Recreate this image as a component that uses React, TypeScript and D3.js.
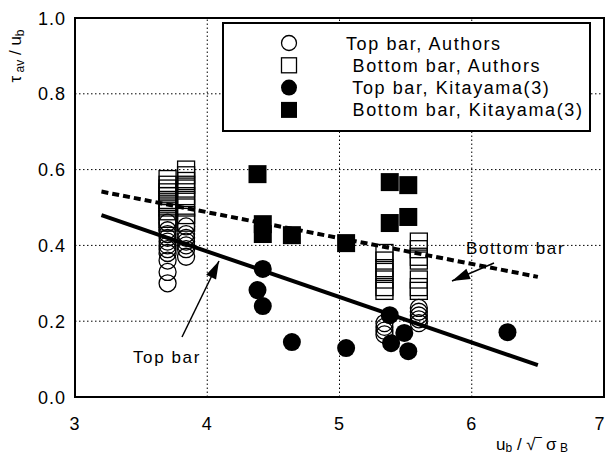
import React from 'react';
import * as d3 from 'd3';

const W = 608;
const H = 457;

const xTicks = [3, 4, 5, 6, 7];
const yTicks = [0, 0.2, 0.4, 0.6, 0.8, 1.0];
const xGrid = [4, 5, 6];
const yGrid = [0.2, 0.4, 0.6, 0.8];

// Top bar, Authors (open circles)
const topAuthors: [number, number][] = [
  [3.70, 0.46], [3.70, 0.44], [3.70, 0.43], [3.70, 0.42], [3.70, 0.41], [3.70, 0.40],
  [3.70, 0.39], [3.70, 0.38], [3.70, 0.36], [3.70, 0.33], [3.70, 0.30],
  [3.84, 0.45], [3.84, 0.43], [3.84, 0.42], [3.84, 0.41], [3.84, 0.40], [3.84, 0.39], [3.84, 0.37],
  [5.34, 0.195], [5.34, 0.185], [5.34, 0.175], [5.34, 0.165],
  [5.60, 0.235], [5.60, 0.225], [5.60, 0.215], [5.60, 0.205], [5.60, 0.195],
];

// Bottom bar, Authors (open squares)
const bottomAuthors: [number, number][] = [
  [3.70, 0.575], [3.70, 0.56], [3.70, 0.55], [3.70, 0.54], [3.70, 0.53], [3.70, 0.52],
  [3.70, 0.51], [3.70, 0.50], [3.70, 0.49], [3.70, 0.47], [3.70, 0.46],
  [3.84, 0.60], [3.84, 0.585], [3.84, 0.57], [3.84, 0.56], [3.84, 0.55], [3.84, 0.53],
  [3.84, 0.52], [3.84, 0.50], [3.84, 0.48], [3.84, 0.46],
  [5.34, 0.38], [5.34, 0.36], [5.34, 0.34], [5.34, 0.33], [5.34, 0.31], [5.34, 0.29], [5.34, 0.28],
  [5.60, 0.41], [5.60, 0.39], [5.60, 0.37], [5.60, 0.36], [5.60, 0.31], [5.60, 0.29], [5.60, 0.28],
];

// Top bar, Kitayama(3) (filled circles)
const topKitayama: [number, number][] = [
  [4.42, 0.338], [4.38, 0.282], [4.42, 0.24], [4.64, 0.145], [5.05, 0.129],
  [5.38, 0.216], [5.49, 0.169], [5.39, 0.142], [5.52, 0.121], [6.27, 0.171],
];

// Bottom bar, Kitayama(3) (filled squares)
const bottomKitayama: [number, number][] = [
  [4.38, 0.588], [4.42, 0.456], [4.42, 0.43], [4.64, 0.427], [5.05, 0.406],
  [5.38, 0.567], [5.52, 0.559], [5.38, 0.459], [5.52, 0.475],
];

const topFit: [number, number][] = [[3.2, 0.48], [6.5, 0.084]];
const bottomFit: [number, number][] = [[3.2, 0.542], [6.5, 0.317]];

const legendLabels = [
  'Top bar, Authors',
  ' Bottom bar, Authors',
  ' Top bar, Kitayama(3)',
  ' Bottom bar, Kitayama(3)',
];

const FONT = '"Liberation Sans", Arial, Helvetica, sans-serif';

export default function App() {
  const x = d3.scaleLinear().domain([3, 7]).range([75, 604]);
  const y = d3.scaleLinear().domain([0, 1]).range([397, 18]);
  const line = d3.line<[number, number]>().x(d => x(d[0])).y(d => y(d[1]));

  const S = 17; // marker size
  const r = 8.5;

  const arrowHead = (tx: number, ty: number, fx: number, fy: number) => {
    const ang = Math.atan2(ty - fy, tx - fx);
    const L = 18, Wd = 5.5;
    const bx = tx - L * Math.cos(ang), by = ty - L * Math.sin(ang);
    const px = -Math.sin(ang) * Wd, py = Math.cos(ang) * Wd;
    return `M${tx},${ty}L${bx + px},${by + py}L${bx - px},${by - py}Z`;
  };

  const topArrow = { fx: 182, fy: 337, tx: 219, ty: 261 };
  const botArrow = { fx: 494, fy: 263, tx: 452, ty: 281 };

  return (
    <svg width={W} height={H} style={{ position: 'absolute', left: 0, top: 0, background: '#fff' }}
      fontFamily={FONT}>
      <rect x={0} y={0} width={W} height={H} fill="#fff" />
      {/* grid */}
      {xGrid.map(v => (
        <line key={'gx' + v} x1={x(v)} x2={x(v)} y1={y(0)} y2={y(1)} stroke="#000"
          strokeWidth={1} strokeDasharray="1.5,2.5" />
      ))}
      {yGrid.map(v => (
        <line key={'gy' + v} x1={x(3)} x2={x(7)} y1={y(v)} y2={y(v)} stroke="#000"
          strokeWidth={1} strokeDasharray="1.5,2.5" />
      ))}

      {/* fit lines */}
      <path d={line(bottomFit) || ''} fill="none" stroke="#000" strokeWidth={4} strokeDasharray="7,4" />
      <path d={line(topFit) || ''} fill="none" stroke="#000" strokeWidth={4} />

      {/* markers */}
      {bottomAuthors.map((d, i) => (
        <rect key={'ba' + i} x={x(d[0]) - S / 2} y={y(d[1]) - S / 2} width={S} height={S}
          fill="none" stroke="#000" strokeWidth={1.3} />
      ))}
      {topAuthors.map((d, i) => (
        <circle key={'ta' + i} cx={x(d[0])} cy={y(d[1])} r={r} fill="none" stroke="#000" strokeWidth={1.3} />
      ))}
      {bottomKitayama.map((d, i) => (
        <rect key={'bk' + i} x={x(d[0]) - 9} y={y(d[1]) - 9} width={18} height={18} fill="#000" />
      ))}
      {topKitayama.map((d, i) => (
        <circle key={'tk' + i} cx={x(d[0])} cy={y(d[1])} r={9} fill="#000" />
      ))}

      {/* annotations */}
      <line x1={topArrow.fx} y1={topArrow.fy} x2={topArrow.tx} y2={topArrow.ty} stroke="#000" strokeWidth={1.5} />
      <path d={arrowHead(topArrow.tx, topArrow.ty, topArrow.fx, topArrow.fy)} fill="#000" />
      <line x1={botArrow.fx} y1={botArrow.fy} x2={botArrow.tx} y2={botArrow.ty} stroke="#000" strokeWidth={1.5} />
      <path d={arrowHead(botArrow.tx, botArrow.ty, botArrow.fx, botArrow.fy)} fill="#000" />
      <text x={133} y={363} fontSize={17} letterSpacing={1.6}>Top bar</text>
      <text x={466} y={254} fontSize={17} letterSpacing={1.6}>Bottom bar</text>

      {/* legend */}
      <rect x={223} y={23} width={367} height={108} fill="#fff" stroke="#000" strokeWidth={2} />
      {legendLabels.map((t, i) => {
        const cy = 43 + i * 22.3;
        const cx = 289;
        let sym;
        if (i === 0) sym = <circle cx={cx} cy={cy} r={7.5} fill="none" stroke="#000" strokeWidth={1.3} />;
        else if (i === 1) sym = <rect x={cx - 7.5} y={cy - 7.5} width={15} height={15} fill="none" stroke="#000" strokeWidth={1.3} />;
        else if (i === 2) sym = <circle cx={cx} cy={cy} r={8} fill="#000" />;
        else sym = <rect x={cx - 8} y={cy - 8} width={16} height={16} fill="#000" />;
        return (
          <g key={'lg' + i}>
            {sym}
            <text x={346} y={cy + 6.5} fontSize={18} letterSpacing={1.6} style={{ whiteSpace: 'pre' }}>{t}</text>
          </g>
        );
      })}

      {/* frame */}
      <rect x={x(3)} y={y(1)} width={x(7) - x(3)} height={y(0) - y(1)} fill="none" stroke="#000" strokeWidth={2} />

      {/* tick labels */}
      {xTicks.map(v => (
        <text key={'xt' + v} x={Math.min(x(v), 600)} y={430} fontSize={18} textAnchor="middle" letterSpacing={1}>{v}</text>
      ))}
      {yTicks.map(v => (
        <text key={'yt' + v} x={66} y={y(v) + 6.5} fontSize={18} textAnchor="end" letterSpacing={1}>{d3.format('.1f')(v)}</text>
      ))}

      {/* axis titles */}
      <text transform="translate(21,56) rotate(-90)" fontSize={17} textAnchor="middle">
        <tspan>τ</tspan>
        <tspan fontSize={12} dy={3}> av</tspan>
        <tspan dy={-3}> / u</tspan>
        <tspan fontSize={12} dy={3}>b</tspan>
      </text>
      <text x={496} y={450} fontSize={17}>
        <tspan>u</tspan>
        <tspan fontSize={12} dy={2}>b</tspan>
        <tspan dy={-2}> /  √‾ σ</tspan>
        <tspan fontSize={12} dy={2}> B</tspan>
      </text>
    </svg>
  );
}
